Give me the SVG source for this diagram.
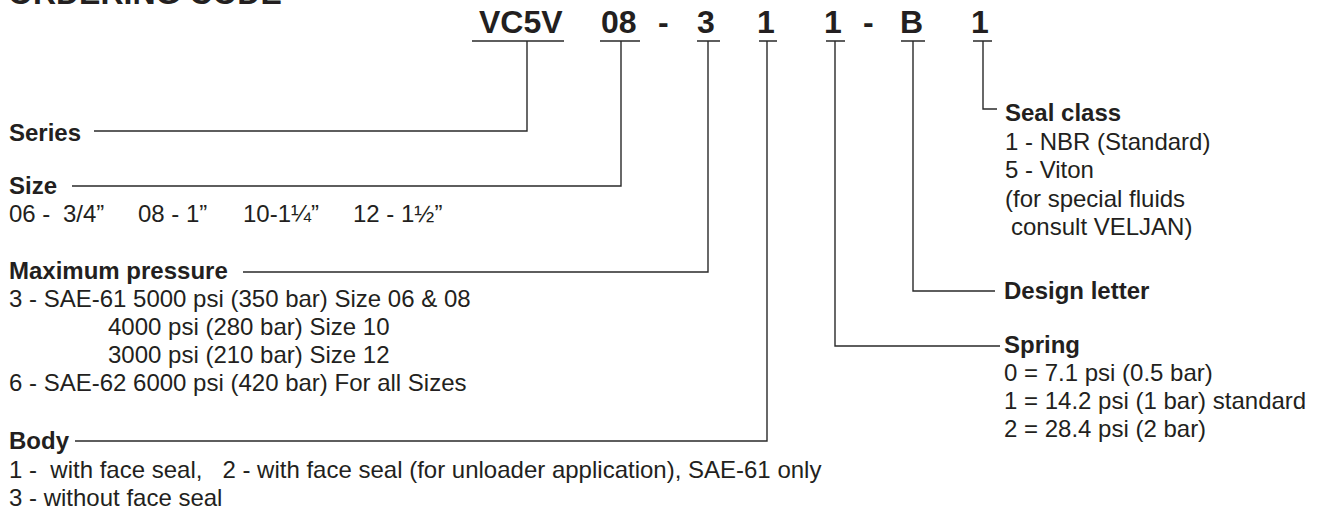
<svg xmlns="http://www.w3.org/2000/svg" width="1330" height="518" viewBox="0 0 1330 518">
<style>
text{font-family:"Liberation Sans",Arial,Helvetica,sans-serif;fill:#231f20}
.code{font-size:32px;font-weight:bold}
.lab{font-size:24px;font-weight:bold}
.txt{font-size:24px}
.ln{stroke:#2a2a2a;stroke-width:1.4;fill:none}
</style>
<rect width="1330" height="518" fill="#ffffff"/>
<text class="code" x="8" y="4">ORDERING CODE</text>
<g id="code">
<text class="code" x="479" y="33">VC5V</text>
<text class="code" x="601" y="33">08</text>
<text class="code" x="658" y="33">-</text>
<text class="code" x="697" y="33">3</text>
<text class="code" x="757" y="33">1</text>
<text class="code" x="824" y="33">1</text>
<text class="code" x="863" y="33">-</text>
<text class="code" x="900" y="33">B</text>
<text class="code" x="971" y="33">1</text>
</g>
<g id="connectors" class="ln">
<path class="ln" d="M472 41H564M600 41H640M697 41H720M759 41H777M826 41H845M901 41H925M973 41H992"/>
<path class="ln" d="M527 41V131H94"/>
<path class="ln" d="M621 41V186H72"/>
<path class="ln" d="M708 41V272H243"/>
<path class="ln" d="M767 41V441H75"/>
<path class="ln" d="M983 41V109H997"/>
<path class="ln" d="M913 41V291H995"/>
<path class="ln" d="M835 41V346H1000"/>
</g>
<g id="series"><text class="lab" x="9" y="141">Series</text></g>
<g id="size">
<text class="lab" x="9" y="194">Size</text>
<text class="txt" y="222"><tspan x="9">06 -</tspan><tspan x="63">3/4”</tspan><tspan x="138">08 - 1”</tspan><tspan x="243">10-1¼”</tspan><tspan x="353">12 - 1½”</tspan></text>
</g>
<g id="pressure">
<text class="lab" x="9" y="279">Maximum pressure</text>
<text class="txt" x="9" y="307">3 - SAE-61 5000 psi (350 bar) Size 06 &amp; 08</text>
<text class="txt" x="108" y="335">4000 psi (280 bar) Size 10</text>
<text class="txt" x="108" y="363">3000 psi (210 bar) Size 12</text>
<text class="txt" x="9" y="391">6 - SAE-62 6000 psi (420 bar) For all Sizes</text>
</g>
<g id="body">
<text class="lab" x="9" y="449">Body</text>
<text class="txt" x="9" y="478" xml:space="preserve">1 -  with face seal,   2 - with face seal (for unloader application), SAE-61 only</text>
<text class="txt" x="9" y="506">3 - without face seal</text>
</g>
<g id="seal">
<text class="lab" x="1005" y="121">Seal class</text>
<text class="txt" x="1005" y="150">1 - NBR (Standard)</text>
<text class="txt" x="1005" y="178">5 - Viton</text>
<text class="txt" x="1005" y="207">(for special fluids</text>
<text class="txt" x="1011" y="235">consult VELJAN)</text>
</g>
<g id="design"><text class="lab" x="1004" y="299">Design letter</text></g>
<g id="spring">
<text class="lab" x="1004" y="353">Spring</text>
<text class="txt" x="1004" y="381">0 = 7.1 psi (0.5 bar)</text>
<text class="txt" x="1004" y="409">1 = 14.2 psi (1 bar) standard</text>
<text class="txt" x="1004" y="437">2 = 28.4 psi (2 bar)</text>
</g>
</svg>
